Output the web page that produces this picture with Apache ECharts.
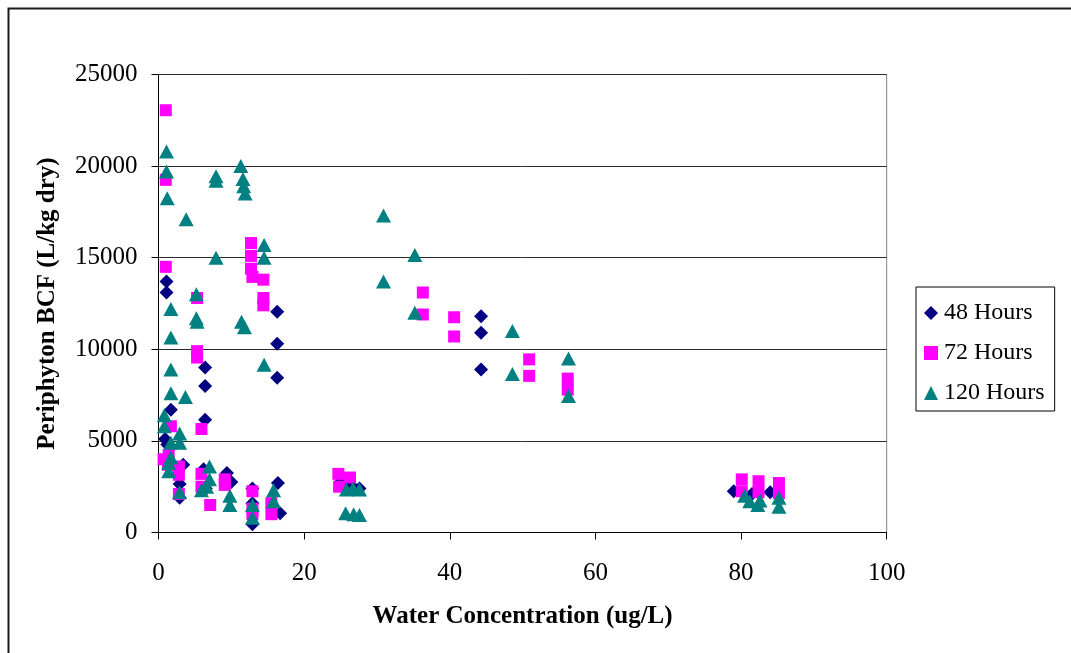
<!DOCTYPE html>
<html>
<head>
<meta charset="utf-8">
<title>Periphyton BCF vs Water Concentration</title>
<script src="https://cdn.jsdelivr.net/npm/echarts@6/dist/echarts.min.js"></script>
<style>
  html, body { margin: 0; padding: 0; background: #fff; }
  #chart { width: 1071px; height: 653px; }
</style>
</head>
<body>
<div id="chart"></div>
<script>
// Water concentration (ug/L) vs periphyton BCF (L/kg dry), by exposure time
const hours48 = [
  [1.1, 13700], [1.1, 13100], [1.7, 6700], [0.9, 5100], [1.2, 4800],
  [3.4, 3700], [2.9, 2650], [2.9, 1900], [6.4, 9000], [6.4, 8000],
  [6.4, 6150], [6.2, 3450], [6.5, 2400], [9.4, 3250], [10.0, 2750],
  [12.9, 2400], [12.9, 1600], [12.9, 450], [16.3, 12050], [16.3, 10300],
  [16.3, 8450], [16.4, 2700], [16.7, 1050], [25.0, 2750], [26.4, 2600],
  [27.6, 2400], [44.3, 11800], [44.3, 10900], [44.3, 8900],
  [79.0, 2250], [81.5, 2100], [84.0, 2200]
];
const hours72 = [
  [1.0, 23050], [1.0, 19250], [1.0, 14500], [1.7, 5800], [1.4, 4250],
  [0.7, 4000], [1.3, 3700], [2.8, 3600], [2.8, 3150], [2.8, 2100],
  [5.3, 12800], [5.3, 9900], [5.3, 9550], [5.9, 5650], [5.9, 3200],
  [5.9, 2500], [7.1, 1500], [9.1, 2900], [9.1, 2600], [12.7, 15800],
  [12.7, 15100], [12.7, 14400], [12.9, 13950], [14.4, 13800], [14.4, 12800],
  [14.4, 12400], [12.9, 2250], [12.9, 1300], [12.9, 1000], [15.5, 1600],
  [15.5, 1000], [24.7, 3200], [24.8, 2500], [26.3, 3000], [36.3, 13100],
  [36.3, 11900], [40.6, 11750], [40.6, 10700], [50.9, 9450], [50.9, 8550],
  [56.2, 8400], [56.2, 7800], [80.1, 2900], [80.1, 2250], [82.4, 2800],
  [82.4, 2200], [85.2, 2700], [85.2, 2150]
];
const hours120 = [
  [1.1, 20800], [1.1, 19700], [1.2, 18250], [3.8, 17100], [7.9, 19450],
  [7.9, 19200], [11.3, 20000], [11.6, 19300], [11.7, 18900], [11.9, 18500],
  [7.9, 15000], [14.5, 15700], [14.5, 15000], [5.2, 13000], [1.7, 12200],
  [5.2, 11700], [5.3, 11500], [11.4, 11500], [11.8, 11200], [1.7, 10650],
  [14.5, 9150], [1.7, 8900], [1.7, 7600], [3.7, 7400], [0.8, 6400],
  [0.8, 5800], [2.9, 5400], [1.7, 4900], [2.9, 4900], [1.7, 4100],
  [1.4, 3800], [1.4, 3350], [2.9, 2200], [5.9, 2300], [6.6, 2500],
  [7.0, 3600], [7.0, 2900], [9.8, 2000], [9.8, 1500], [12.9, 1500],
  [12.9, 800], [15.8, 2300], [15.8, 1700], [25.8, 2350], [26.7, 2400],
  [27.6, 2350], [25.7, 1050], [26.8, 1000], [27.6, 950], [30.9, 17300],
  [30.9, 13700], [35.2, 15150], [35.2, 12000], [48.6, 11000], [48.6, 8650],
  [56.3, 9500], [56.3, 7450], [80.5, 2000], [81.2, 1700], [82.6, 1750],
  [82.3, 1500], [85.2, 1900], [85.2, 1400]
];

const seriesNames = ['48 Hours', '72 Hours', '120 Hours'];
const xTicks = { min: 0, max: 100, interval: 20 };
const yTicks = { min: 0, max: 25000, interval: 5000 };

const serif = '"Liberation Serif", "DejaVu Serif", serif';

const chart = echarts.init(document.getElementById('chart'), null, { renderer: 'canvas' });

chart.setOption({
  backgroundColor: '#ffffff',
  animation: false,
  graphic: [{
    type: 'rect',
    left: 6, top: 6,
    shape: { x: 0, y: 0, width: 1100, height: 700 },
    style: { fill: 'none', stroke: '#1a1a1a', lineWidth: 2 },
    z: 0
  }],
  grid: {
    left: 158.5, right: 184.3, top: 74.5, bottom: 120.5,
    show: true, borderColor: '#808080', borderWidth: 1,
    backgroundColor: 'transparent'
  },
  legend: {
    data: seriesNames,
    orient: 'vertical',
    left: 916, top: 287,
    padding: [14, 10, 6, 8],
    itemGap: 16,
    itemWidth: 14, itemHeight: 14,
    borderColor: '#000', borderWidth: 1,
    textStyle: { fontFamily: serif, fontSize: 24, color: '#000', padding: [0, 0, 0, 1] }
  },
  xAxis: {
    type: 'value',
    min: xTicks.min, max: xTicks.max, interval: xTicks.interval,
    name: 'Water Concentration (ug/L)',
    nameLocation: 'middle', nameGap: 72,
    nameTextStyle: { fontFamily: serif, fontSize: 25, fontWeight: 'bold', color: '#000' },
    axisLine: { show: true, onZero: false, lineStyle: { color: '#000', width: 1 } },
    axisTick: { show: true, inside: false, length: 7, lineStyle: { color: '#000' } },
    axisLabel: { margin: 28, fontFamily: serif, fontSize: 25, color: '#000' },
    splitLine: { show: false }
  },
  yAxis: {
    type: 'value',
    min: yTicks.min, max: yTicks.max, interval: yTicks.interval,
    name: 'Periphyton BCF (L/kg dry)',
    nameLocation: 'middle', nameGap: 98,
    nameTextStyle: { fontFamily: serif, fontSize: 25, fontWeight: 'bold', color: '#000' },
    axisLine: { show: true, onZero: false, lineStyle: { color: '#000', width: 1 } },
    axisTick: { show: true, inside: false, length: 7, lineStyle: { color: '#000' } },
    axisLabel: { margin: 21, fontFamily: serif, fontSize: 25, color: '#000', formatter: v => String(v) },
    splitLine: { show: true, lineStyle: { color: '#2a2a2a', width: 1 } }
  },
  series: [
    {
      name: seriesNames[0], type: 'scatter', data: hours48,
      symbol: 'diamond', symbolSize: [14, 14],
      itemStyle: { color: '#000080', opacity: 1 }
    },
    {
      name: seriesNames[1], type: 'scatter', data: hours72,
      symbol: 'rect', symbolSize: [12, 12],
      itemStyle: { color: '#ff00ff', opacity: 1 }
    },
    {
      name: seriesNames[2], type: 'scatter', data: hours120,
      symbol: 'triangle', symbolSize: [15, 14],
      itemStyle: { color: '#008080', opacity: 1 }
    }
  ]
});
</script>
</body>
</html>
